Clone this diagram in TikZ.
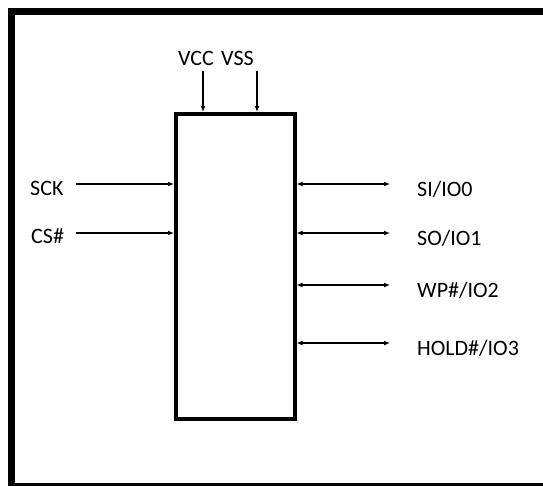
\documentclass[tikz,border=0pt]{standalone}
\usepackage{fontspec}
\setmainfont{Carlito}
\usetikzlibrary{arrows.meta}
\begin{document}
\begin{tikzpicture}[x=1pt,y=-1pt]
    \tikzset{
    frame line/.style={draw=black,line width=7},
    chip box/.style={rectangle,draw=black,line width=4,minimum width=118.5,minimum height=305,inner sep=0},
    pin label/.style={inner sep=0,font=\fontsize{22}{26}\selectfont},
    in arrow/.style={line width=1.2,-{Latex[length=6,width=5]}},
    io arrow/.style={line width=1.2,{Latex[length=6,width=5]}-{Latex[length=6,width=5]}}
    }
    \useasboundingbox (0,0) rectangle (543,485);
    \draw[frame line] (11.5,11.5) rectangle (560,486.5);
    \node[chip box] (chip) at (235.25,266.5) {};
    % supply pins
    \node[pin label,anchor=base east] (vcc) at (214,65) {VCC};
    \node[pin label,anchor=base west] (vss) at (221,65) {VSS};
    \coordinate (vcc start) at (203,71);
    \coordinate (vss start) at (257,71);
    \draw[in arrow] (vcc start) -- (vcc start |- chip.north);
    \draw[in arrow] (vss start) -- (vss start |- chip.north);
    % input pins
    \node[pin label,anchor=base west] (sck) at (30,195) {SCK};
    \node[pin label,anchor=base west] (cs) at (31,243) {CS\#};
    \coordinate (sck start) at (76,184);
    \coordinate (cs start) at (76,233);
    \draw[in arrow] (sck start) -- (sck start -| chip.west);
    \draw[in arrow] (cs start) -- (cs start -| chip.west);
    % io pins
    \foreach \name/\txt/\y in {io0/SI\slash IO0/184,io1/SO\slash IO1/233,io2/WP\#\slash IO2/285,io3/HOLD\#\slash IO3/343}{
        \coordinate (\name end) at (390,\y);
        \node[pin label,anchor=base west] (\name) at (417,\y+12) {\txt};
        \draw[io arrow] (\name end -| chip.east) -- (\name end);
    }
\end{tikzpicture}
\end{document}
